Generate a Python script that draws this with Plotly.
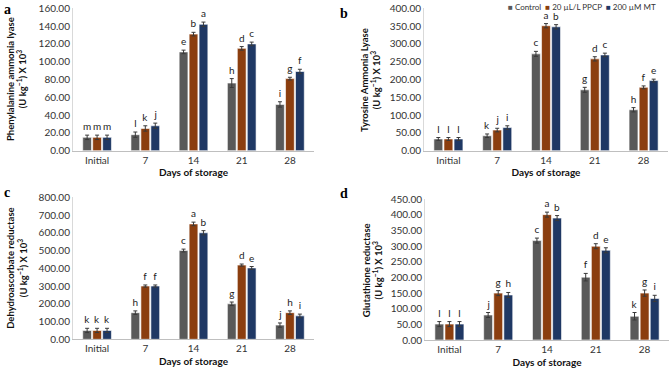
import plotly.graph_objects as go
from plotly.subplots import make_subplots

days = ["Initial", "7", "14", "21", "28"]
series = ["Control", "20 µL/L PPCP", "200 µM MT"]
colors = ["#595959", "#8B3E0F", "#1F3864"]

# Panel a: Phenylalanine ammonia lyase
pal_vals = [[15, 18, 111, 76, 52], [15, 25, 131, 115, 81], [15, 28, 142, 120, 89]]
pal_err = [[2.5, 3, 2, 5, 3], [2.5, 3, 2, 2, 1.5], [2.5, 3, 2.5, 2, 2.5]]
pal_let = [["m", "l", "e", "h", "i"], ["m", "k", "b", "d", "g"], ["m", "j", "a", "c", "f"]]

# Panel b: Tyrosine ammonia lyase
tal_vals = [[33, 42, 272, 171, 115], [33, 58, 351, 258, 178], [33, 65, 348, 269, 197]]
tal_err = [[4, 5, 7, 7, 6], [4, 5, 6, 6, 4], [4, 5, 6, 5, 4]]
tal_let = [["l", "k", "c", "g", "h"], ["l", "j", "a", "d", "f"], ["l", "i", "b", "c", "e"]]

# Panel c: Dehydroascorbate reductase
dhar_vals = [[50, 150, 500, 200, 80], [50, 300, 650, 418, 150], [50, 300, 600, 402, 132]]
dhar_err = [[12, 10, 8, 10, 12], [12, 6, 10, 6, 10], [12, 6, 12, 8, 10]]
dhar_let = [["k", "h", "c", "g", "j"], ["k", "f", "a", "d", "h"], ["k", "f", "b", "e", "i"]]

# Panel d: Glutathione reductase
gr_vals = [[51, 80, 318, 201, 76], [51, 150, 401, 300, 150], [51, 144, 390, 287, 133]]
gr_err = [[8, 8, 8, 12, 12], [8, 8, 8, 8, 10], [8, 8, 8, 8, 10]]
gr_let = [["l", "j", "c", "f", "k"], ["l", "g", "a", "d", "g"], ["l", "h", "b", "e", "i"]]

y_titles = [
    "Phenylalanine ammonia lyase<br>(U kg<sup>−1</sup>) X 10<sup>3</sup>",
    "Tyrosine Ammonia Lyase<br>(U kg<sup>−1</sup>) X 10<sup>3</sup>",
    "Dehydroascorbate reductase<br>(U kg<sup>−1</sup>) X 10<sup>3</sup>",
    "Glutathione reductase<br>(U kg<sup>−1</sup>) X 10<sup>3</sup>",
]
y_ranges = [[0, 160], [0, 400], [0, 800], [0, 450]]
y_dticks = [20, 50, 100, 50]
panel_letters = ["a", "b", "c", "d"]

panels = [
    (pal_vals, pal_err, pal_let),
    (tal_vals, tal_err, tal_let),
    (dhar_vals, dhar_err, dhar_let),
    (gr_vals, gr_err, gr_let),
]

FONT = "Lato"

fig = make_subplots(rows=2, cols=2)

positions = [(1, 1), (1, 2), (2, 1), (2, 2)]
for p, (vals, errs, lets) in enumerate(panels):
    r, c = positions[p]
    for s in range(3):
        fig.add_trace(go.Bar(
            x=days, y=vals[s], name=series[s], offsetgroup=str(s),
            marker=dict(color=colors[s], line=dict(color="white", width=0.6)),
            error_y=dict(type="data", array=errs[s], color="#3a3a3a", thickness=1, width=2),
            showlegend=False, hoverinfo="skip",
        ), row=r, col=c)
        fig.add_trace(go.Bar(
            x=days, y=[v + e for v, e in zip(vals[s], errs[s])], offsetgroup=str(s),
            marker=dict(color="rgba(0,0,0,0)", line=dict(width=0)),
            text=lets[s], textposition="outside", constraintext="none", cliponaxis=False,
            textfont=dict(family=FONT, size=10, color="#222"),
            showlegend=False, hoverinfo="skip",
        ), row=r, col=c)

x_domains = [[0.1091, 0.4694], [0.6338, 0.9985], [0.1091, 0.4694], [0.6353, 1.0]]
y_domains = [[0.5981, 0.9779], [0.5981, 0.9779], [0.0952, 0.4739], [0.0933, 0.4685]]

for p in range(4):
    xa = "xaxis" if p == 0 else f"xaxis{p+1}"
    ya = "yaxis" if p == 0 else f"yaxis{p+1}"
    fig.layout[xa].update(
        domain=x_domains[p], showline=True, linecolor="#BFBFBF", linewidth=1,
        ticks="", showgrid=False, tickfont=dict(family=FONT, size=10, color="#333"),
        title=dict(text="<b>Days of storage</b>", font=dict(family=FONT, size=10, color="#111"), standoff=4),
        automargin=False,
    )
    fig.layout[ya].update(
        domain=y_domains[p], range=y_ranges[p], dtick=y_dticks[p], tickformat=".2f",
        showline=True, linecolor="#D9D9D9", linewidth=1, ticks="", showgrid=False,
        zeroline=False, tickfont=dict(family=FONT, size=10, color="#333"),
        automargin=False,
    )

# y-axis titles as rotated annotations
ytitle_x = [0.0247, 0.5538, 0.0247, 0.5568]
for p in range(4):
    fig.add_annotation(
        x=ytitle_x[p], y=sum(y_domains[p]) / 2, xref="paper", yref="paper",
        xanchor="center", yanchor="middle", textangle=-90, showarrow=False,
        text=f"<b>{y_titles[p]}</b>",
        font=dict(family=FONT, size=9.5, color="#111"),
    )

# panel letters
letter_pos = [(0.003, 0.976), (0.505, 0.965), (0.003, 0.488), (0.505, 0.483)]
for p in range(4):
    fig.add_annotation(
        x=letter_pos[p][0], y=letter_pos[p][1], xref="paper", yref="paper",
        xanchor="left", yanchor="middle", showarrow=False,
        text=f"<b>{panel_letters[p]}</b>",
        font=dict(family="Liberation Serif", size=14, color="#000"),
    )

# legend as text annotation built from series names/colors
legend_text = "  ".join(
    f"<span style='color:{colors[s]}'>■</span> {series[s]}" for s in range(3)
)
fig.add_annotation(
    x=0.984, y=0.999, xref="paper", yref="paper", xanchor="right", yanchor="top",
    showarrow=False, text=legend_text,
    font=dict(family=FONT, size=8, color="#333"),
)

fig.update_layout(
    width=669, height=375, barmode="group", bargap=0.38, bargroupgap=0.12,
    margin=dict(l=0, r=0, t=0, b=0), plot_bgcolor="white", paper_bgcolor="white",
    showlegend=False,
)

fig.write_html(
    "out.html",
    config={"displayModeBar": False},
    post_script="document.body.style.margin='0';document.body.style.padding='0';document.body.style.overflow='hidden';",
)
